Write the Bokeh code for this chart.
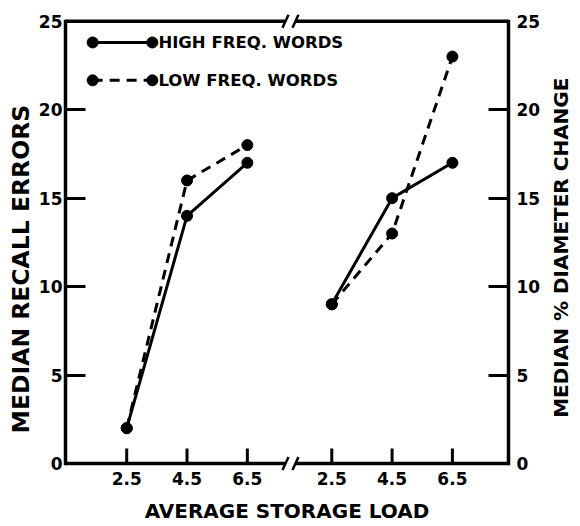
import math
from bokeh.plotting import figure
from bokeh.layouts import row
from bokeh.models import (Range1d, LinearAxis, FixedTicker, CustomJSTickFormatter, Title)
from bokeh.core.properties import value
from bokeh.embed import file_html
from bokeh.resources import INLINE

# ---------------- data ----------------
load = [2.5, 4.5, 6.5]            # average storage load (both panels)
recall_high = [2, 14, 17]         # median recall errors, high-frequency words
recall_low = [2, 16, 18]          # median recall errors, low-frequency words
diameter_high = [9, 15, 17]       # median % diameter change, high-frequency words
diameter_low = [9, 13, 23]        # median % diameter change, low-frequency words
y_ticks = [0, 5, 10, 15, 20, 25]
series_names = ["HIGH FREQ. WORDS", "LOW FREQ. WORDS"]
x_title = "AVERAGE STORAGE LOAD"
y_title_left = "MEDIAN RECALL ERRORS"
y_title_right = "MEDIAN % DIAMETER CHANGE"

# ---------------- layout / style constants ----------------
FONT = "DejaVu Sans"
SHIFT = 6.8                 # horizontal offset of the right-hand panel
X0, X1 = 0.47, 15.16        # frame extent in internal x units
Y0, Y1 = -0.45, 25.55
YTOP = 25
BRK_L, BRK_R = 7.765, 8.096 # axis break positions
SL_DX, SL_DY = 0.1, 0.37    # half-size of break slashes
TICK_H = 0.85               # x tick length (y units)
LEG_X = [1.37, 3.35]
LEG_Y = [23.8, 21.66]
LEG_TX = 3.55
RIGHT_TITLE_Y = 12.2        # vertical centre of right-hand title
LW = 3
H = 526
B_TOP, B_BOT = 11, 55
MAIN_W, SIDE_W = 547, 33

right_x = [v + SHIFT for v in load]

p = figure(width=MAIN_W, height=H, x_range=Range1d(X0, X1), y_range=Range1d(Y0, Y1),
           output_backend="svg", toolbar_location=None, title=None,
           min_border_left=65, min_border_right=39, min_border_top=B_TOP,
           min_border_bottom=B_BOT)
p.grid.visible = False
p.outline_line_color = None
p.background_fill_color = "white"
p.border_fill_color = "white"


def style_y(ax, standoff):
    ax.ticker = FixedTicker(ticks=y_ticks)
    ax.bounds = (0, YTOP)
    ax.axis_line_width = 3.5
    ax.axis_line_color = "black"
    ax.axis_line_cap = "square"
    ax.major_tick_in = 20
    ax.major_tick_out = 0
    ax.major_tick_line_width = 3
    ax.major_tick_line_color = "black"
    ax.minor_tick_in = 0
    ax.minor_tick_out = 0
    ax.major_label_text_font = FONT
    ax.major_label_text_font_size = "17px"
    ax.major_label_text_font_style = "bold"
    ax.major_label_text_color = "black"
    ax.major_label_standoff = standoff


style_y(p.yaxis[0], 3)

right_axis = LinearAxis()
style_y(right_axis, 8)
p.add_layout(right_axis, "right")

left_title = Title(text=y_title_left, align="left", offset=38, standoff=2,
                   text_font=FONT, text_font_size="23.5px", text_font_style="bold",
                   text_color="black")
p.add_layout(left_title, "left")

xb = p.xaxis[0]
xb.ticker = FixedTicker(ticks=load + right_x)
xb.formatter = CustomJSTickFormatter(
    code=f"const v = tick > {BRK_L} ? tick - {SHIFT} : tick; return v.toFixed(1);")
xb.axis_line_color = None
xb.major_tick_line_color = None
xb.major_tick_in = 0
xb.major_tick_out = 0
xb.minor_tick_in = 0
xb.minor_tick_out = 0
xb.major_label_standoff = 0
xb.major_label_text_font = FONT
xb.major_label_text_font_size = "17px"
xb.major_label_text_font_style = "bold"
xb.major_label_text_color = "black"
xb.axis_label = x_title
xb.axis_label_standoff = 11
xb.axis_label_text_font = FONT
xb.axis_label_text_font_size = "20px"
xb.axis_label_text_font_style = "bold"
xb.axis_label_text_color = "black"

# broken top and bottom frame lines
p.segment(x0=[X0, BRK_R, X0, BRK_R], x1=[BRK_L, X1, BRK_L, X1],
          y0=[0, 0, YTOP, YTOP], y1=[0, 0, YTOP, YTOP],
          line_width=3.5, line_color="black")
# break slashes
bx = [BRK_L, BRK_R, BRK_L, BRK_R]
by = [0, 0, YTOP, YTOP]
p.segment(x0=[b - SL_DX for b in bx], x1=[b + SL_DX for b in bx],
          y0=[v - SL_DY for v in by], y1=[v + SL_DY for v in by],
          line_width=2.5, line_color="black")
# x ticks pointing inwards
xt = load + right_x
p.segment(x0=xt, x1=xt, y0=[0] * len(xt), y1=[TICK_H] * len(xt),
          line_width=3, line_color="black")

# data
for xs, hi, lo in [(load, recall_high, recall_low), (right_x, diameter_high, diameter_low)]:
    p.line(xs, hi, line_width=LW, line_color="black")
    p.line(xs, lo, line_width=LW, line_color="black", line_dash="10 7")
    p.scatter(xs, hi, size=11, color="black")
    p.scatter(xs, lo, size=11, color="black")

# legend (keys with dots at both ends)
p.line(LEG_X, [LEG_Y[0]] * 2, line_width=LW, line_color="black")
p.line(LEG_X, [LEG_Y[1]] * 2, line_width=LW, line_color="black", line_dash="10 7")
p.scatter(LEG_X * 2, [LEG_Y[0]] * 2 + [LEG_Y[1]] * 2, size=11, color="black")
p.text(x=[LEG_TX] * 2, y=LEG_Y, text=series_names, text_font=value(FONT),
       text_font_size="16.5px", text_font_style="bold", text_baseline="middle",
       text_color="black")

# narrow strip holding the right-hand axis title (reads bottom to top)
side = figure(width=SIDE_W, height=H, x_range=Range1d(0, 1), y_range=p.y_range,
              output_backend="svg", toolbar_location=None, title=None,
              x_axis_type=None, y_axis_type=None,
              min_border_left=0, min_border_right=0, min_border_top=B_TOP,
              min_border_bottom=B_BOT)
side.grid.visible = False
side.outline_line_color = None
side.background_fill_color = "white"
side.border_fill_color = "white"
side.text(x=[0.4], y=[RIGHT_TITLE_Y], text=[y_title_right], angle=math.pi / 2,
          text_font=value(FONT), text_font_size="20px", text_font_style="bold",
          text_align="center", text_baseline="middle", text_color="black")

layout = row(p, side)
open("out.html", "w").write(file_html(layout, INLINE))
